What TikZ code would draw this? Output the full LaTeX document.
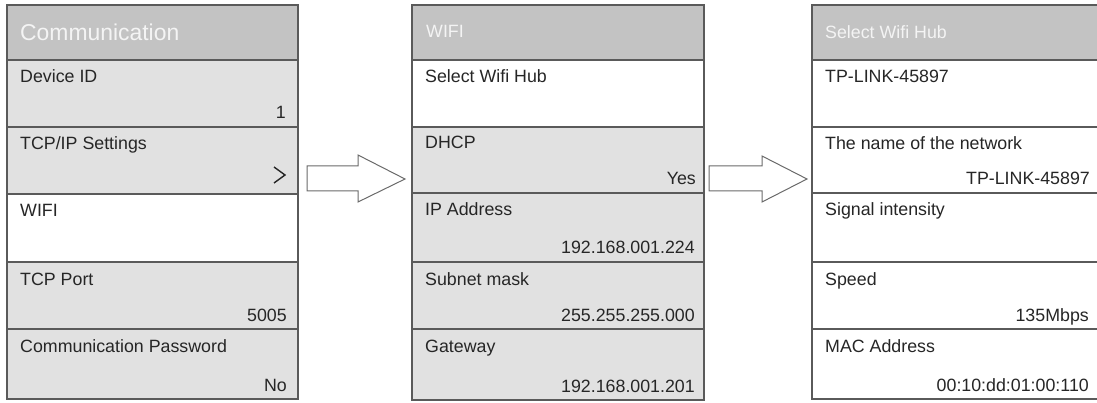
\documentclass[tikz,border=0pt]{standalone}
\usepackage{fontspec}
\setmainfont{Liberation Sans}
\definecolor{bordc}{HTML}{5A5A5A}
\definecolor{hdrc}{HTML}{C3C3C3}
\definecolor{rowc}{HTML}{E1E1E1}
\definecolor{txtc}{HTML}{262626}
\definecolor{hdrtxt}{HTML}{F4F4F4}
\definecolor{arrc}{HTML}{6A6A6A}
\begin{document}
\begin{tikzpicture}[x=1pt,y=-1pt,
  cellbox/.style={draw=bordc, line width=1.4pt, anchor=north west, inner sep=0pt, outer sep=0pt},
  hdrbox/.style={cellbox, fill=hdrc},
  graybox/.style={cellbox, fill=rowc},
  whitebox/.style={cellbox, fill=white},
  lbl/.style={anchor=base west, inner sep=0pt, text=txtc, font=\fontsize{17.8}{20}\selectfont},
  val/.style={anchor=base east, inner sep=0pt, text=txtc, font=\fontsize{17.8}{20}\selectfont},
  hdrlbl/.style={anchor=base west, inner sep=0pt, text=hdrtxt, font=\fontsize{17.8}{20}\selectfont},
  bighdr/.style={hdrlbl, font=\fontsize{22.9}{26}\selectfont},
  blockarrow/.style={draw=arrc, fill=white, line width=1pt, line join=miter},
  chevron/.style={draw=txtc, line width=1.4pt}
]
\useasboundingbox (0,0) rectangle (1097,403);

% ---------- Left panel ----------
\node[hdrbox, minimum width=291pt, minimum height=55pt] (L0) at (7,5) {};
\node[graybox, minimum width=291pt, minimum height=67pt] (L1) at (7,60) {};
\node[graybox, minimum width=291pt, minimum height=67pt] (L2) at (7,127) {};
\node[whitebox, minimum width=291pt, minimum height=68pt] (L3) at (7,194) {};
\node[graybox, minimum width=291pt, minimum height=67pt] (L4) at (7,262) {};
\node[graybox, minimum width=291pt, minimum height=70pt] (L5) at (7,329) {};

\node[bighdr] (L0t) at (20,41) {Communication};
\node[lbl] (L1t) at (20,83) {Device ID};
\node[val] (L1v) at (286,119) {1};
\node[lbl] (L2t) at (20,150) {TCP/IP Settings};
\draw[chevron] (274,167) -- (285,175) -- (274,183);
\node[lbl] (L3t) at (20,217) {WIFI};
\node[lbl] (L4t) at (20,285) {TCP Port};
\node[val] (L4v) at (287,321) {5005};
\node[lbl] (L5t) at (20,352) {Communication Password};
\node[val] (L5v) at (287,391) {No};

% ---------- Middle panel ----------
\node[hdrbox, minimum width=292pt, minimum height=55pt] (M0) at (412,5) {};
\node[whitebox, minimum width=292pt, minimum height=67pt] (M1) at (412,60) {};
\node[graybox, minimum width=292pt, minimum height=66pt] (M2) at (412,127) {};
\node[graybox, minimum width=292pt, minimum height=69pt] (M3) at (412,193) {};
\node[graybox, minimum width=292pt, minimum height=67pt] (M4) at (412,262) {};
\node[graybox, minimum width=292pt, minimum height=71pt] (M5) at (412,329) {};

\node[hdrlbl] (M0t) at (426,38) {WIFI};
\node[lbl] (M1t) at (425,83) {Select Wifi Hub};
\node[lbl] (M2t) at (425,149) {DHCP};
\node[val] (M2v) at (696,185) {Yes};
\node[lbl] (M3t) at (425,216) {IP Address};
\node[val] (M3v) at (695,254) {192.168.001.224};
\node[lbl] (M4t) at (425,285) {Subnet mask};
\node[val] (M4v) at (695,321) {255.255.255.000};
\node[lbl] (M5t) at (425,352) {Gateway};
\node[val] (M5v) at (695,392) {192.168.001.201};

% ---------- Right panel ----------
\node[hdrbox, minimum width=290pt, minimum height=55pt] (R0) at (812,5) {};
\node[whitebox, minimum width=290pt, minimum height=67pt] (R1) at (812,60) {};
\node[whitebox, minimum width=290pt, minimum height=66pt] (R2) at (812,127) {};
\node[whitebox, minimum width=290pt, minimum height=69pt] (R3) at (812,193) {};
\node[whitebox, minimum width=290pt, minimum height=67pt] (R4) at (812,262) {};
\node[whitebox, minimum width=290pt, minimum height=70pt] (R5) at (812,329) {};

\node[hdrlbl] (R0t) at (825,39) {Select Wifi Hub};
\node[lbl] (R1t) at (825,83) {TP-LINK-45897};
\node[lbl] (R2t) at (825,150) {The name of the network};
\node[val] (R2v) at (1090,185) {TP-LINK-45897};
\node[lbl] (R3t) at (825,216) {Signal intensity};
\node[lbl] (R4t) at (825,285) {Speed};
\node[val] (R4v) at (1089,321) {135Mbps};
\node[lbl] (R5t) at (825,352) {MAC Address};
\node[val] (R5v) at (1089,391) {00:10:dd:01:00:110};

% ---------- Block arrows ----------
\draw[blockarrow] (307,166) -- (358,166) -- (358,155) -- (405,179) -- (358,202) -- (358,191) -- (307,191) -- cycle;
\draw[blockarrow] (709,166) -- (762,166) -- (762,156) -- (807,179) -- (762,202) -- (762,191) -- (709,191) -- cycle;
\end{tikzpicture}
\end{document}
